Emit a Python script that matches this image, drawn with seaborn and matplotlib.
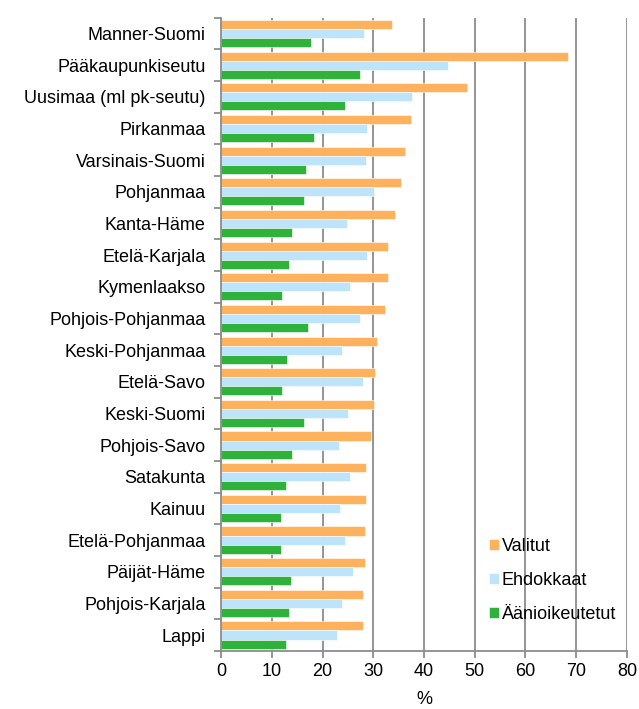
import numpy as np
import pandas as pd
import matplotlib
matplotlib.use("Agg")
import matplotlib.pyplot as plt
import seaborn as sns

# Regions, top to bottom
regions = [
    "Manner-Suomi", "Pääkaupunkiseutu", "Uusimaa (ml pk-seutu)", "Pirkanmaa",
    "Varsinais-Suomi", "Pohjanmaa", "Kanta-Häme", "Etelä-Karjala",
    "Kymenlaakso", "Pohjois-Pohjanmaa", "Keski-Pohjanmaa", "Etelä-Savo",
    "Keski-Suomi", "Pohjois-Savo", "Satakunta", "Kainuu",
    "Etelä-Pohjanmaa", "Päijät-Häme", "Pohjois-Karjala", "Lappi",
]

# Share (%) of each group
valitut = [33.6, 68.4, 48.5, 37.4, 36.2, 35.5, 34.2, 33.0, 33.0, 32.3,
           30.8, 30.4, 30.1, 29.5, 28.6, 28.6, 28.3, 28.3, 27.9, 27.9]
ehdokkaat = [28.2, 44.7, 37.7, 28.8, 28.5, 30.2, 24.8, 28.8, 25.4, 27.3,
             23.8, 27.9, 25.0, 23.2, 25.4, 23.5, 24.4, 26.0, 23.8, 22.8]
aanioikeutetut = [17.8, 27.3, 24.4, 18.4, 16.8, 16.3, 14.0, 13.4, 12.1, 17.2,
                  13.0, 12.1, 16.3, 14.0, 12.7, 11.8, 11.8, 13.7, 13.4, 12.7]

series_names = ["Valitut", "Ehdokkaat", "Äänioikeutetut"]
colors = ["#FFB25E", "#BDE4FA", "#2EB23C"]

df = pd.DataFrame({
    "region": regions * 3,
    "group": np.repeat(series_names, len(regions)),
    "value": valitut + ehdokkaat + aanioikeutetut,
})

sns.set_style("white")
plt.rcParams["font.family"] = ["Liberation Sans", "DejaVu Sans"]
plt.rcParams["text.color"] = "black"
plt.rcParams["xtick.labelcolor"] = "black"
plt.rcParams["ytick.labelcolor"] = "black"

fig = plt.figure(figsize=(6.39, 7.09), dpi=100)
ax = fig.add_axes([0.346, 0.082, 0.635, 0.893])

sns.barplot(data=df, y="region", x="value", hue="group", order=regions,
            hue_order=series_names, palette=colors, orient="h",
            width=0.86, saturation=1, edgecolor="white", linewidth=0.4, ax=ax)

ax.set_xlim(0, 80)
ax.set_ylim(len(regions) - 0.5, -0.5)
ax.set_xticks(range(0, 81, 10))
ax.grid(axis="x", color="#8c8c8c", linewidth=1.3)
ax.set_axisbelow(True)

for side in ["top", "right"]:
    ax.spines[side].set_visible(False)
for side in ["left", "bottom"]:
    ax.spines[side].set_color("#8c8c8c")
    ax.spines[side].set_linewidth(1.3)

# tick marks between the categories, labels centered
ax.set_yticks(np.arange(-0.5, len(regions), 1), minor=True)
ax.tick_params(axis="y", which="major", length=0, pad=11, labelsize=13)
ax.tick_params(axis="y", which="minor", length=5, width=1.3, color="#8c8c8c", left=True)
ax.tick_params(axis="x", length=5, width=1.3, color="#8c8c8c", labelsize=13, bottom=True, pad=4)

ax.set_ylabel("")
ax.set_xlabel("%", fontsize=13, labelpad=8, color="black")

ax.legend(title=None, frameon=False, loc="lower right",
          bbox_to_anchor=(1.013, 0.018), fontsize=13, handlelength=0.55,
          handleheight=0.55, handletextpad=0.15, labelspacing=0.95)

fig.savefig("out.png", dpi=100)
